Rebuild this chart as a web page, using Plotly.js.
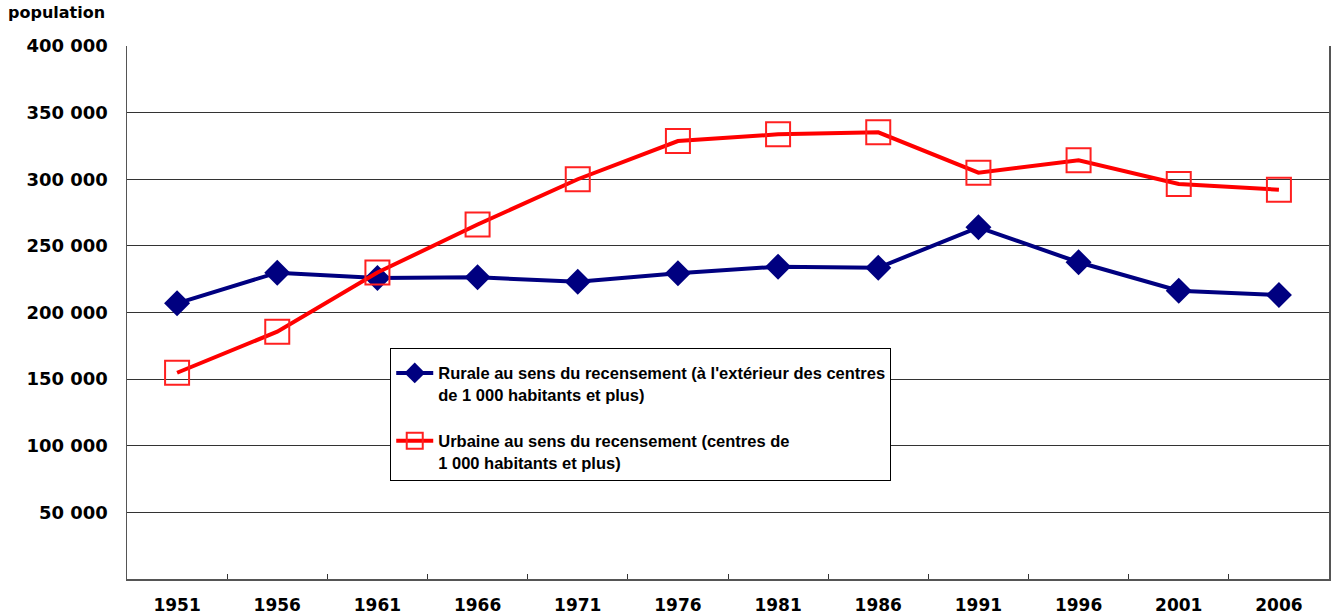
<!DOCTYPE html>
<html>
<head>
<meta charset="utf-8">
<script src="https://cdn.plot.ly/plotly-3.0.1.min.js"></script>
<style>html,body{margin:0;padding:0;background:#fff;}#chart{width:1331px;height:615px;}</style>
</head>
<body>
<div id="chart"></div>
<script>
const years = ['1951','1956','1961','1966','1971','1976','1981','1986','1991','1996','2001','2006'];
const rurale = [206900, 229900, 225800, 226400, 223100, 229400, 234400, 233600, 263900, 237700, 216400, 213100];
const urbaine = [154800, 185600, 230000, 266000, 300000, 328700, 333700, 335200, 304900, 314200, 296400, 292200];
const yTickVals = [50000, 100000, 150000, 200000, 250000, 300000, 350000, 400000];
const yTickText = ['50 000', '100 000', '150 000', '200 000', '250 000', '300 000', '350 000', '400 000'];
const nameRurale = "Rurale au sens du recensement (à l'extérieur des centres<br>de 1 000 habitants et plus)";
const nameUrbaine = "Urbaine au sens du recensement (centres de<br>1 000 habitants et plus)";

const traces = [
  {
    x: years, y: rurale, name: nameRurale, type: 'scatter', mode: 'lines+markers',
    legendgroup: 'a',
    line: {color: '#000080', width: 4},
    marker: {symbol: 'diamond', size: 20, color: '#000080'}
  },
  {
    x: years, y: urbaine, name: nameUrbaine, type: 'scatter', mode: 'lines+markers',
    legendgroup: 'b',
    line: {color: '#ff0000', width: 4},
    marker: {symbol: 'square-open', size: 24, color: '#ff2020', line: {width: 2, color: '#ff2020'}}
  }
];

const layout = {
  width: 1331, height: 615,
  margin: {l: 127, r: 2, t: 46, b: 36},
  paper_bgcolor: '#fff', plot_bgcolor: '#fff',
  showlegend: true,
  title: {
    text: 'population', xref: 'container', yref: 'container',
    x: 0.006, xanchor: 'left', y: 0.98, yanchor: 'middle',
    font: {family: 'DejaVu Sans', size: 16, color: '#000', weight: 'bold'}
  },
  xaxis: {
    type: 'category', range: [-0.5, 11.5],
    tickson: 'boundaries', ticks: 'inside', ticklen: 5, tickcolor: '#333', tickwidth: 1,
    showgrid: false, showline: true, linecolor: '#555', linewidth: 1.5,
    tickfont: {family: 'DejaVu Sans', size: 17, color: '#000', weight: 'bold'},
    ticklabelstandoff: 10, fixedrange: true
  },
  yaxis: {
    range: [0, 400000], tickmode: 'array', tickvals: yTickVals, ticktext: yTickText,
    ticks: '', showgrid: true, gridcolor: '#333', gridwidth: 1,
    showline: true, linecolor: '#555', linewidth: 1.5, mirror: true,
    zeroline: false,
    tickfont: {family: 'DejaVu Sans', size: 18, color: '#000', weight: 'bold'},
    ticklabelstandoff: 14
  },
  legend: {
    x: 0.219, y: 0.433, xanchor: 'left', yanchor: 'top',
    bgcolor: '#fff', bordercolor: '#000', borderwidth: 1,
    traceorder: 'grouped', tracegroupgap: 22, valign: 'top', itemwidth: 37,
    title: {text: ' ', font: {size: 5}},
    font: {family: 'Liberation Sans, Arial', size: 16.5, color: '#000', weight: 'bold'}
  }
};

Plotly.newPlot('chart', traces, layout, {displayModeBar: false, staticPlot: true});
</script>
</body>
</html>
